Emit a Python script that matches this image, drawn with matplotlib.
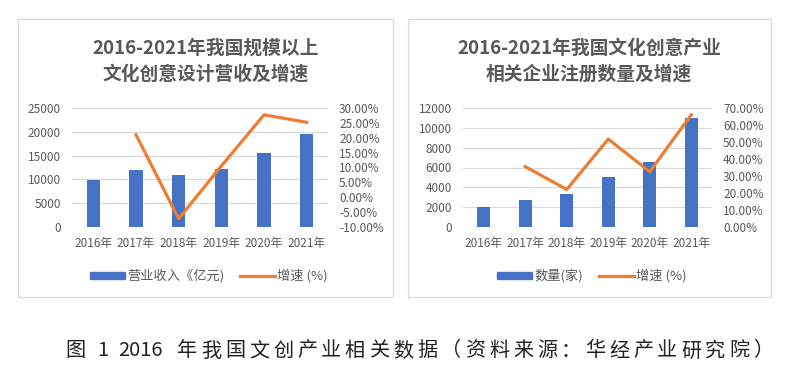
import matplotlib.pyplot as plt
from matplotlib.patches import Rectangle
from matplotlib.lines import Line2D
import numpy as np

plt.rcParams['font.family'] = ['Noto Sans CJK SC', 'DejaVu Sans']

# data
years = ['2016年', '2017年', '2018年', '2019年', '2020年', '2021年']
revenue = [9900, 12000, 11000, 12200, 15600, 19600]          # 亿元
revenue_growth = [None, 21.0, -7.2, 10.5, 27.7, 25.2]        # %
companies = [2000, 2700, 3300, 5000, 6600, 11000]            # 家
companies_growth = [None, 35.5, 22.1, 51.7, 32.5, 66.0]      # %

caption_head = ['图', '1', '2016']
caption_tail = '年我国文创产业相关数据（资料来源：华经产业研究院）'

BLUE = '#4472C4'
ORANGE = '#ED7D31'
GRID = '#D9D9D9'
TXT = '#595959'

W, H = 789, 382
fig = plt.figure(figsize=(W / 100, H / 100), dpi=100)


def fx(px):
    return px / W


def fy(py):
    return 1 - py / H


def panel(left_px, right_px, bars, growth, ymax, ystep, y2min, y2max, y2step,
          title, bar_label, legend_cx, box, title_cx):
    ax = fig.add_axes([fx(left_px), fy(227), fx(right_px - left_px), 119 / H])
    x = np.arange(len(years))
    ax.bar(x, bars, width=0.31, color=BLUE, zorder=3)
    ax.set_xlim(-0.5, len(years) - 0.5)
    ax.set_ylim(0, ymax)
    ax.set_yticks(np.arange(0, ymax + 1, ystep))
    ax.set_xticks(x)
    ax.set_xticklabels(years)
    ax.grid(axis='y', color=GRID, linewidth=0.8, zorder=0)
    for s in ax.spines.values():
        s.set_visible(False)
    ax.tick_params(length=0, colors=TXT, labelsize=8.5)
    ax.tick_params(axis='y', pad=8)
    ax.tick_params(axis='x', pad=7)

    ax2 = ax.twinx()
    gx = [i for i, g in enumerate(growth) if g is not None]
    gy = [g for g in growth if g is not None]
    ax2.plot(gx, gy, color=ORANGE, linewidth=2.3, zorder=4)
    ax2.set_ylim(y2min, y2max)
    ticks2 = np.arange(y2min, y2max + 0.1, y2step)
    ax2.set_yticks(ticks2)
    ax2.set_yticklabels(['{:.2f}%'.format(v) for v in ticks2])
    for s in ax2.spines.values():
        s.set_visible(False)
    ax2.tick_params(length=0, colors=TXT, labelsize=8.5, pad=8)

    fig.text(fx(title_cx), fy(61), title, ha='center', va='center',
             fontsize=13.5, fontweight='bold', color=TXT, linespacing=1.45)

    handles = [Rectangle((0, 0), 1, 1, color=BLUE),
               Line2D([0], [0], color=ORANGE, linewidth=2.3)]
    fig.legend(handles, [bar_label, '增速 (%)'], loc='center',
               bbox_to_anchor=(fx(legend_cx), fy(276)), ncol=2, frameon=False,
               fontsize=9.5, handlelength=2.65, handleheight=0.45, columnspacing=1.2,
               handletextpad=0.15, labelcolor=TXT)

    # panel border
    fig.patches.append(Rectangle((fx(box[0]), fy(297)), fx(box[1] - box[0]), 278 / H,
                                 transform=fig.transFigure, fill=False,
                                 edgecolor=GRID, linewidth=0.8))
    return ax


panel(72, 328, revenue, revenue_growth, 25000, 5000, -10, 30, 5,
      '2016-2021年我国规模以上\n文化创意设计营收及增速', '营业收入《亿元)',
      209, (18, 393), 206)
panel(463, 712, companies, companies_growth, 12000, 2000, 0, 70, 10,
      '2016-2021年我国文化创意产业\n相关企业注册数量及增速', '数量(家)',
      592, (408, 771), 589)

# caption, set with wide letter spacing like the original
cap_style = dict(va='center', fontsize=14.5, color='#222222')
for s, left in zip(caption_head, [65, 97, 118]):
    fig.text(fx(left), fy(351), s, ha='left', **cap_style)
for i, ch in enumerate(caption_tail):
    fig.text(fx(187 + 24 * i), fy(351), ch, ha='center', **cap_style)

fig.savefig('out.png', dpi=100, facecolor='white')
